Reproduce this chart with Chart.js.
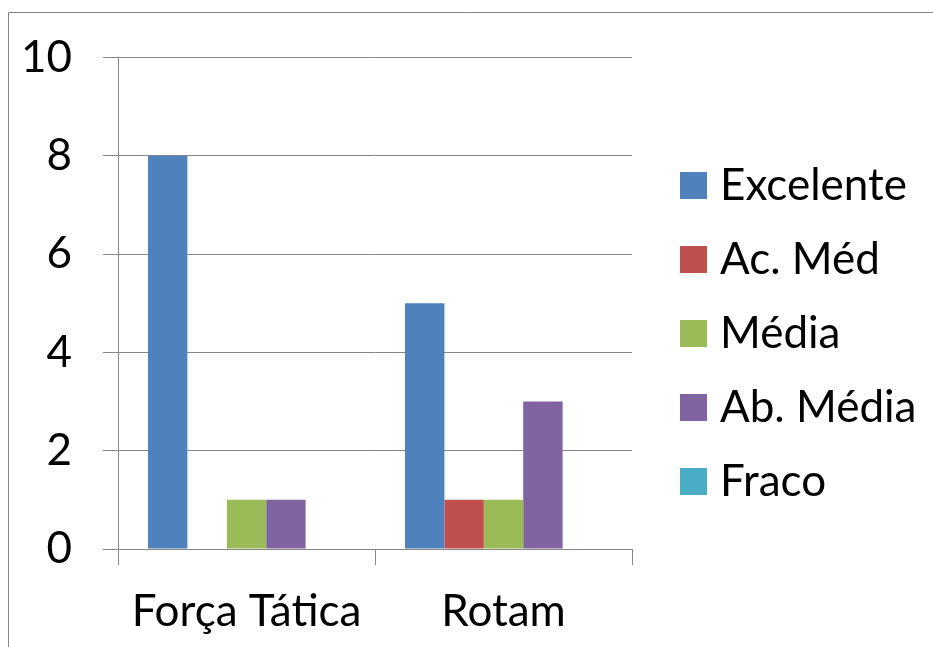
<!DOCTYPE html>
<html>
<head>
<meta charset="utf-8">
<script src="https://cdn.jsdelivr.net/npm/chart.js@4"></script>
<style>
  html, body { margin: 0; padding: 0; background: #fff; }
  #wrap { width: 933px; height: 647px; position: relative; }
</style>
</head>
<body>
<div id="wrap"><canvas id="c" width="933" height="647"></canvas></div>
<script>
// Categories and series values
const categories = ['Força Tática', 'Rotam'];
const seriesNames = ['Excelente', 'Ac. Méd', 'Média', 'Ab. Média', 'Fraco'];
const excelente = [8, 5];
const acMed = [0, 1];
const media = [1, 1];
const abMedia = [1, 3];
const fraco = [0, 0];
const yTickValues = [0, 2, 4, 6, 8, 10];

const seriesValues = [excelente, acMed, media, abMedia, fraco];
const seriesColors = ['#4F81BD', '#C0504D', '#9BBB59', '#8064A2', '#4BACC6'];

const gridColor = '#868686';
const textFont = { family: 'Lato', size: 44 };

// Outer frame of the chart object (left and top edges)
const framePlugin = {
  id: 'frame',
  beforeDraw(chart) {
    const ctx = chart.ctx;
    ctx.save();
    ctx.strokeStyle = gridColor;
    ctx.lineWidth = 1;
    ctx.beginPath();
    ctx.moveTo(8.5, chart.height);
    ctx.lineTo(8.5, 12.5);
    ctx.lineTo(chart.width, 12.5);
    ctx.stroke();
    ctx.restore();
  }
};

// Fixed legend column width and placement to the right of the plot
const legendPlacement = {
  id: 'legendPlacement',
  afterInit(chart) {
    const lg = chart.legend;
    const fit = lg.fit;
    lg.fit = function () { fit.call(this); this.width = 301; };
  },
  afterLayout(chart) {
    const lg = chart.legend;
    lg.left += 27; lg.right += 27;
    lg.top -= 17; lg.bottom -= 17;
  }
};

new Chart(document.getElementById('c'), {
  type: 'bar',
  data: {
    labels: categories,
    datasets: seriesNames.map((name, i) => ({
      label: name,
      data: seriesValues[i],
      backgroundColor: seriesColors[i],
      borderWidth: 0,
      categoryPercentage: 0.7665,
      barPercentage: 1
    }))
  },
  options: {
    responsive: false,
    devicePixelRatio: 1,
    animation: false,
    layout: { padding: { top: 54, left: 0, right: 0, bottom: 0 } },
    plugins: {
      tooltip: { enabled: false },
      legend: {
        position: 'right',
        align: 'center',
        labels: {
          font: textFont,
          color: '#000',
          // small core box with a thick same-colour outline: a 27px square
          // that sits close to its label
          boxWidth: 9,
          boxHeight: 9,
          padding: 30,
          generateLabels(chart) {
            return Chart.defaults.plugins.legend.labels.generateLabels(chart).map(item => {
              item.strokeStyle = item.fillStyle;
              item.lineWidth = 18;
              return item;
            });
          }
        }
      }
    },
    scales: {
      x: {
        offset: true,
        grid: {
          offset: true,
          drawOnChartArea: false,
          drawTicks: true,
          tickLength: 16,
          color: gridColor,
          lineWidth: 1
        },
        border: { color: gridColor, width: 1 },
        ticks: { font: textFont, color: '#000', padding: 20, maxRotation: 0, autoSkip: false },
        afterFit(scale) { scale.height = 98; }
      },
      y: {
        min: 0,
        max: 10,
        afterBuildTicks(scale) { scale.ticks = yTickValues.map(v => ({ value: v })); },
        grid: { color: gridColor, lineWidth: 1, tickLength: 15 },
        border: { color: gridColor, width: 1 },
        ticks: { font: textFont, color: '#000', padding: 31 },
        afterFit(scale) { scale.width = 118; }
      }
    }
  },
  plugins: [framePlugin, legendPlacement]
});
</script>
</body>
</html>
